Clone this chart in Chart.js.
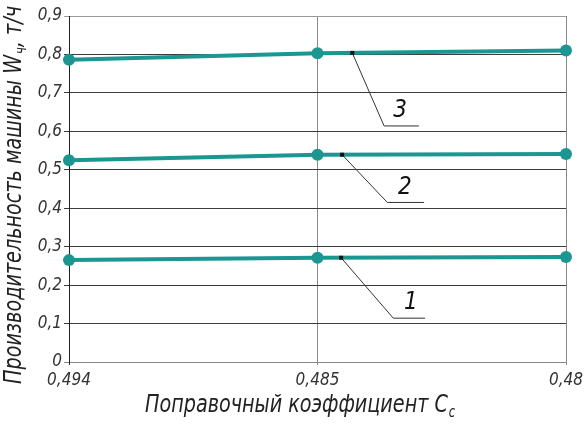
<!DOCTYPE html>
<html><head><meta charset="utf-8">
<script src="https://cdn.jsdelivr.net/npm/chart.js@4"></script>
<style>html,body{margin:0;padding:0;background:#fff}#wrap{width:584px;height:424px}</style>
</head>
<body><div id="wrap"><canvas id="c" width="584" height="424"></canvas></div>
<script>
// ---- data ----
const categories = ['0,494', '0,485', '0,48'];
const series1 = [0.265, 0.271, 0.273];
const series2 = [0.525, 0.539, 0.541];
const series3 = [0.786, 0.803, 0.810];
const yTicks = [0, 0.1, 0.2, 0.3, 0.4, 0.5, 0.6, 0.7, 0.8, 0.9];
const yTickLabels = ['0', '0,1', '0,2', '0,3', '0,4', '0,5', '0,6', '0,7', '0,8', '0,9'];
const xTitle = 'Поправочный коэффициент С';
const xTitleSub = 'с';
const yTitleA = 'Производительность машины W';
const yTitleSub = 'ч';
const yTitleB = ', т/ч';
// callout labels (position in data units: category index, value)
const annLabels = ['1', '2', '3'];
const annAnchorX = [1.095, 1.099, 1.140];
const annEndX = [1.305, 1.281, 1.268];
const annEndY = [0.114, 0.415, 0.614];
const annLineEndX = [1.433, 1.429, 1.408];
const annTextX = [1.376, 1.352, 1.332];
const annTextY = [0.153, 0.453, 0.653];

const FONT = '"Liberation Sans Narrow", "DejaVu Sans Condensed", "Roboto Condensed", sans-serif';
const TEAL = '#1b9691';
const allSeries = [series1, series2, series3];

function pxX(scale, idx) {
  const i0 = Math.floor(idx), f = idx - i0;
  const a = scale.getPixelForValue(i0), b = scale.getPixelForValue(Math.min(i0 + 1, categories.length - 1));
  return a + (b - a) * f;
}
function lineVal(arr, idx) {
  const i0 = Math.floor(idx), f = idx - i0;
  return arr[i0] + (arr[Math.min(i0 + 1, arr.length - 1)] - arr[i0]) * f;
}

// draws main text + subscript + optional tail, compressed horizontally to a target width
function drawTitle(ctx, parts, cx, baseY, targetW) {
  const big = 'italic 25px ' + FONT, small = 'italic 15px ' + FONT;
  const widths = parts.map(p => { ctx.font = p.sub ? small : big; return ctx.measureText(p.t).width + (p.sub ? 1 : 0); });
  const total = widths.reduce((a, b) => a + b, 0);
  const k = targetW / total;
  ctx.save();
  ctx.translate(cx - targetW / 2, baseY);
  ctx.scale(k, 1);
  let x = 0;
  parts.forEach((p, i) => {
    ctx.font = p.sub ? small : big;
    ctx.fillText(p.t, x + (p.sub ? 1 : 0), p.sub ? 5 : 0);
    x += widths[i];
  });
  ctx.restore();
}

const extras = {
  id: 'extras',
  afterDatasetsDraw(chart) {
    const ctx = chart.ctx, xs = chart.scales.x, ys = chart.scales.y;
    ctx.save();
    for (let i = 0; i < annLabels.length; i++) {
      const ax = pxX(xs, annAnchorX[i]);
      const ay = ys.getPixelForValue(lineVal(allSeries[i], annAnchorX[i]));
      const ex = pxX(xs, annEndX[i]);
      const ey = ys.getPixelForValue(annEndY[i]);
      const ux = pxX(xs, annLineEndX[i]);
      ctx.strokeStyle = '#333';
      ctx.lineWidth = 1;
      ctx.beginPath();
      ctx.moveTo(ax, ay); ctx.lineTo(ex, ey); ctx.lineTo(ux, ey);
      ctx.stroke();
      ctx.fillStyle = '#111';
      ctx.fillRect(ax - 2, ay - 2, 4, 4);
      ctx.font = 'italic 24px ' + FONT;
      ctx.textAlign = 'center';
      ctx.textBaseline = 'middle';
      ctx.fillText(annLabels[i], pxX(xs, annTextX[i]), ys.getPixelForValue(annTextY[i]));
    }
    ctx.restore();
  },
  afterDraw(chart) {
    const ctx = chart.ctx;
    ctx.save();
    ctx.fillStyle = '#222';
    ctx.textBaseline = 'alphabetic';
    ctx.textAlign = 'left';
    drawTitle(ctx, [{ t: xTitle }, { t: xTitleSub, sub: true }], 300, 412, 310);
    ctx.translate(21, 195);
    ctx.rotate(-Math.PI / 2);
    drawTitle(ctx, [{ t: yTitleA }, { t: yTitleSub, sub: true }, { t: yTitleB }], 0, 0, 378);
    ctx.restore();
  }
};

const ds = (arr) => ({
  data: arr, borderColor: TEAL, backgroundColor: TEAL, borderWidth: 4,
  pointRadius: 6, pointHoverRadius: 6, pointBorderWidth: 0, pointBackgroundColor: TEAL,
  tension: 0, fill: false
});

new Chart(document.getElementById('c'), {
  type: 'line',
  data: { labels: categories, datasets: [ds(series1), ds(series2), ds(series3)] },
  options: {
    responsive: false, animation: false,
    layout: { padding: { top: 16, right: 18, left: 0, bottom: 0 } },
    plugins: { legend: { display: false }, tooltip: { enabled: false } },
    scales: {
      x: {
        type: 'category', offset: false,
        grid: { color: (c) => c.index === 0 ? '#333' : '#8a8a8a', tickLength: 3, lineWidth: 1 },
        border: { display: true, color: '#888' },
        ticks: { font: { family: FONT, size: 17, style: 'italic' }, color: '#333', padding: 5, maxRotation: 0, autoSkip: false },
        afterFit: (s) => { s.height = 62; s.paddingLeft = 0; s.paddingRight = 0; }
      },
      y: {
        min: 0, max: 0.9,
        afterBuildTicks: (s) => { s.ticks = yTicks.map(v => ({ value: v })); },
        grid: {
          color: (c) => c.tick && c.tick.value >= 0.89 ? '#9a9a9a' : (c.tick && c.tick.value === 0 ? '#888' : '#3c3c3c'),
          tickLength: 5, lineWidth: 1
        },
        border: { display: true, color: '#222' },
        ticks: {
          font: { family: FONT, size: 17, style: 'italic' }, color: '#333', padding: 2,
          callback: (v, i) => yTickLabels[i]
        },
        afterFit: (s) => { s.width = 69; }
      }
    }
  },
  plugins: [extras]
});
</script>
</body></html>
